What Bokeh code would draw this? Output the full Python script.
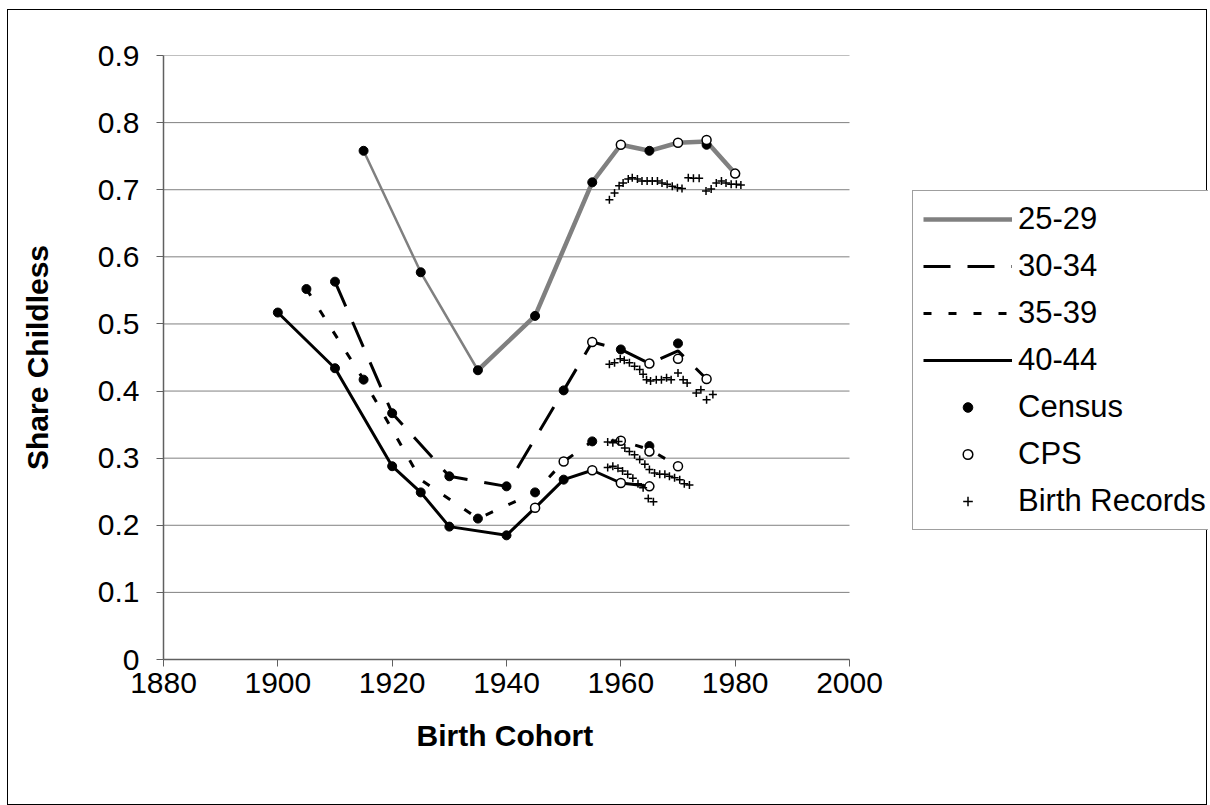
from bokeh.plotting import figure
from bokeh.models import FixedTicker, Legend, LegendItem, ColumnDataSource, Title
from bokeh.embed import file_html
from bokeh.resources import INLINE

# ---------------- data ----------------
age_groups = ["25-29", "30-34", "35-39", "40-44"]

# line paths per age group
line_years_2529 = [1915, 1925, 1935, 1945, 1955, 1960, 1965, 1970, 1975, 1980]
line_vals_2529 = [0.758, 0.577, 0.431, 0.512, 0.711, 0.767, 0.758, 0.770, 0.772, 0.724]
line_years_3034 = [1910, 1920, 1930, 1940, 1950, 1955, 1960, 1965, 1970, 1975]
line_vals_3034 = [0.563, 0.367, 0.273, 0.258, 0.401, 0.473, 0.462, 0.441, 0.460, 0.418]
line_years_3539 = [1905, 1915, 1925, 1935, 1945, 1950, 1955, 1960, 1965, 1970]
line_vals_3539 = [0.552, 0.417, 0.268, 0.210, 0.249, 0.295, 0.325, 0.326, 0.313, 0.288]
line_years_4044 = [1900, 1910, 1920, 1925, 1930, 1940, 1945, 1950, 1955, 1960, 1965]
line_vals_4044 = [0.517, 0.434, 0.288, 0.249, 0.198, 0.185, 0.226, 0.268, 0.282, 0.263, 0.258]

# Census points
census_years_2529 = [1915, 1925, 1935, 1945, 1955, 1965, 1975]
census_vals_2529 = [0.758, 0.577, 0.431, 0.512, 0.711, 0.758, 0.767]
census_years_3034 = [1910, 1920, 1930, 1940, 1950, 1960, 1970]
census_vals_3034 = [0.563, 0.367, 0.273, 0.258, 0.401, 0.462, 0.471]
census_years_3539 = [1905, 1915, 1935, 1945, 1955, 1965]
census_vals_3539 = [0.552, 0.417, 0.210, 0.249, 0.325, 0.318]
census_years_4044 = [1900, 1910, 1920, 1925, 1930, 1940, 1950]
census_vals_4044 = [0.517, 0.434, 0.288, 0.249, 0.198, 0.185, 0.268]

# CPS points
cps_years_2529 = [1960, 1970, 1975, 1980]
cps_vals_2529 = [0.767, 0.770, 0.774, 0.724]
cps_years_3034 = [1955, 1965, 1970, 1975]
cps_vals_3034 = [0.473, 0.441, 0.448, 0.418]
cps_years_3539 = [1950, 1960, 1965, 1970]
cps_vals_3539 = [0.295, 0.326, 0.310, 0.288]
cps_years_4044 = [1945, 1955, 1960, 1965]
cps_vals_4044 = [0.226, 0.282, 0.263, 0.258]

# Birth records
birth_years_2529 = [1958.0, 1958.9, 1959.7, 1960.4, 1961.3, 1962.0, 1962.9, 1963.7, 1964.6,
                    1965.5, 1966.4, 1967.2, 1968.1, 1969.0, 1969.9, 1970.7, 1971.8, 1972.7,
                    1973.7, 1974.9, 1975.8, 1976.7, 1977.6, 1978.4, 1979.3, 1980.2, 1981.0]
birth_vals_2529 = [0.685, 0.695, 0.706, 0.710, 0.716, 0.718, 0.716, 0.713, 0.713,
                   0.713, 0.713, 0.710, 0.708, 0.705, 0.703, 0.702, 0.718, 0.717,
                   0.717, 0.698, 0.701, 0.710, 0.713, 0.710, 0.708, 0.708, 0.707]
birth_years_3034 = [1958.0, 1958.9, 1959.9, 1960.6, 1961.5, 1962.4, 1963.3, 1963.9, 1964.5,
                    1965.2, 1966.2, 1967.1, 1968.0, 1968.8, 1970.0, 1970.9, 1971.6, 1973.2,
                    1974.0, 1975.0, 1976.1]
birth_vals_3034 = [0.440, 0.442, 0.448, 0.446, 0.442, 0.437, 0.432, 0.425, 0.417,
                   0.415, 0.417, 0.417, 0.420, 0.417, 0.427, 0.417, 0.412, 0.397,
                   0.402, 0.387, 0.395]
birth_years_3539 = [1957.7, 1958.6, 1959.6, 1960.7, 1961.5, 1962.4, 1963.3, 1964.2, 1965.0,
                    1965.9, 1966.8, 1967.7, 1968.5, 1969.4, 1970.3, 1971.1, 1972.0]
birth_vals_3539 = [0.324, 0.323, 0.325, 0.315, 0.310, 0.305, 0.298, 0.291, 0.283,
                   0.278, 0.276, 0.276, 0.273, 0.271, 0.268, 0.262, 0.260]
birth_years_4044 = [1957.7, 1958.6, 1959.5, 1960.3, 1961.2, 1962.1, 1963.0, 1963.9, 1964.8, 1965.7]
birth_vals_4044 = [0.286, 0.288, 0.285, 0.281, 0.276, 0.270, 0.262, 0.256, 0.240, 0.235]

x_ticks = [1880, 1900, 1920, 1940, 1960, 1980, 2000]
y_ticks = [0, 0.1, 0.2, 0.3, 0.4, 0.5, 0.6, 0.7, 0.8, 0.9]
y_tick_labels = ["0", "0.1", "0.2", "0.3", "0.4", "0.5", "0.6", "0.7", "0.8", "0.9"]

FONT = "Liberation Sans"

# ---------------- layout ----------------
W, H = 1200, 796
LEFT, TOP, BOTTOM = 155, 45, 147
AXIS_PX = 686  # pixel length of the 1880-2000 axis
frame_w = W - LEFT
x_end = x_ticks[0] + (x_ticks[-1] - x_ticks[0]) * frame_w / AXIS_PX

p = figure(width=W, height=H, output_backend="svg", toolbar_location=None,
           x_range=(x_ticks[0], x_end), y_range=(y_ticks[0], y_ticks[-1]),
           min_border_left=LEFT, min_border_right=0, min_border_top=TOP, min_border_bottom=BOTTOM)
p.styles = {"border": "1px solid #000000", "margin-left": "7px", "margin-top": "9px"}
p.outline_line_color = None
p.background_fill_color = "white"
p.border_fill_color = "white"

p.xgrid.grid_line_color = None
p.ygrid.grid_line_color = None
# horizontal gridlines limited to the axis extent
p.segment(x0=[x_ticks[0]] * len(y_ticks), x1=[x_ticks[-1]] * len(y_ticks),
          y0=y_ticks, y1=y_ticks, line_color="#808080", line_width=1)

p.xaxis.ticker = FixedTicker(ticks=x_ticks)
p.xaxis.bounds = (x_ticks[0], x_ticks[-1])
p.yaxis.ticker = FixedTicker(ticks=y_ticks)
p.yaxis.major_label_overrides = {t: l for t, l in zip(y_ticks, y_tick_labels)}
for ax in (p.xaxis, p.yaxis):
    ax.axis_line_color = "#606060"
    ax.axis_line_width = 1.5
    ax.major_tick_line_color = "#606060"
    ax.major_tick_out = 7
    ax.major_tick_in = 0
    ax.minor_tick_line_color = None
    ax.major_label_text_font = FONT
    ax.major_label_text_font_size = "30px"
    ax.major_label_text_color = "black"
    ax.axis_label_text_font = FONT
    ax.axis_label_text_font_size = "30px"
    ax.axis_label_text_font_style = "bold"
    ax.axis_label_text_color = "black"
p.yaxis.axis_label = "Share Childless"
p.xaxis.major_label_standoff = 6
p.yaxis.major_label_standoff = 17
p.yaxis.axis_label_standoff = 41

# x-axis title centred under the 1880-2000 axis
x_title = Title(text="Birth Cohort", align="left", offset=253,
                text_font=FONT, text_font_size="30px", text_font_style="bold",
                text_color="black", standoff=43)
p.add_layout(x_title, "below")

# lines
n_thin = 3
r_2529_thin = p.line(line_years_2529[:n_thin], line_vals_2529[:n_thin], line_color="#808080", line_width=2.5)
r_2529 = p.line(line_years_2529[n_thin - 1:], line_vals_2529[n_thin - 1:], line_color="#808080", line_width=4.5)
r_3034 = p.line(line_years_3034, line_vals_3034, line_color="black", line_width=3, line_dash="27 17")
r_3539 = p.line(line_years_3539, line_vals_3539, line_color="black", line_width=3, line_dash="8 17")
r_4044 = p.line(line_years_4044, line_vals_4044, line_color="black", line_width=3)

census_src = ColumnDataSource(dict(
    x=census_years_2529 + census_years_3034 + census_years_3539 + census_years_4044,
    y=census_vals_2529 + census_vals_3034 + census_vals_3539 + census_vals_4044))
cps_src = ColumnDataSource(dict(
    x=cps_years_2529 + cps_years_3034 + cps_years_3539 + cps_years_4044,
    y=cps_vals_2529 + cps_vals_3034 + cps_vals_3539 + cps_vals_4044))
birth_src = ColumnDataSource(dict(
    x=birth_years_2529 + birth_years_3034 + birth_years_3539 + birth_years_4044,
    y=birth_vals_2529 + birth_vals_3034 + birth_vals_3539 + birth_vals_4044))

r_census = p.scatter("x", "y", source=census_src, marker="circle", size=9,
                     fill_color="black", line_color="black", line_width=1)
r_cps = p.scatter("x", "y", source=cps_src, marker="circle", size=9,
                  fill_color="white", line_color="black", line_width=1.5)
r_birth = p.scatter("x", "y", source=birth_src, marker="cross", size=8,
                    line_color="black", line_width=1.5)

legend = Legend(items=[
    LegendItem(label=age_groups[0], renderers=[r_2529]),
    LegendItem(label=age_groups[1], renderers=[r_3034]),
    LegendItem(label=age_groups[2], renderers=[r_3539]),
    LegendItem(label=age_groups[3], renderers=[r_4044]),
    LegendItem(label="Census", renderers=[r_census]),
    LegendItem(label="CPS", renderers=[r_cps]),
    LegendItem(label="Birth Records", renderers=[r_birth]),
], location=(749, 129))
legend.label_text_font = FONT
legend.label_text_font_size = "31px"
legend.label_text_color = "black"
legend.glyph_width = 89
legend.glyph_height = 24
legend.label_height = 36
legend.spacing = 11
legend.padding = 10
legend.margin = 0
legend.label_standoff = 6
legend.border_line_color = "#404040"
legend.border_line_width = 1
legend.background_fill_color = "white"
legend.background_fill_alpha = 1
p.add_layout(legend, "center")

open("out.html", "w").write(file_html(p, INLINE))
